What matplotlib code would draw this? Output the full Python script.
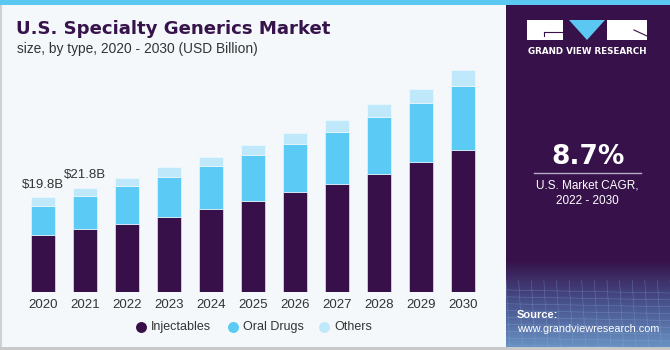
import matplotlib.pyplot as plt
import numpy as np
from matplotlib.patches import Rectangle
from matplotlib.colors import LinearSegmentedColormap

# data (USD billion)
years = ['2020', '2021', '2022', '2023', '2024', '2025', '2026', '2027', '2028', '2029', '2030']
injectables = [11.9, 13.2, 14.3, 15.7, 17.3, 18.9, 20.8, 22.6, 24.6, 27.1, 29.6]
oral_drugs = [6.1, 6.8, 7.8, 8.4, 9.0, 9.6, 10.1, 10.9, 12.0, 12.4, 13.5]
others = [1.8, 1.8, 1.6, 2.0, 1.9, 2.2, 2.2, 2.4, 2.7, 2.9, 3.2]
labels = {0: '$19.8B', 1: '$21.8B'}
series_names = ['Injectables', 'Oral Drugs', 'Others']

c_inj = '#37104a'
c_oral = '#5bcaf5'
c_oth = '#bfe9fa'
c_panel = '#37124a'

W, H = 670, 350
fig = plt.figure(figsize=(W / 100, H / 100), dpi=100)
fig.patch.set_facecolor('#f4f8fb')

# background decorations, drawn in pixel coords (origin top-left)
bg = fig.add_axes([0, 0, 1, 1])
bg.set_xlim(0, W)
bg.set_ylim(H, 0)
bg.axis('off')
bg.add_patch(Rectangle((0, 0), W, 5, color='#5bc8f2', lw=0))
bg.add_patch(Rectangle((0, 347), W, 3, color='#c9c9c9', lw=0))
bg.add_patch(Rectangle((0, 5), 1.5, 342, color='#d0d0d0', lw=0))
bg.add_patch(Rectangle((506, 5), W - 506, 342, color=c_panel, lw=0))

# gradient + mesh at the bottom of the panel
grad = np.linspace(0, 1, 100).reshape(-1, 1)
cm = LinearSegmentedColormap.from_list('g', [c_panel, '#4a5a95', '#6fa0d0'])
bg.imshow(grad, extent=(506, W, 347, 260), cmap=cm, aspect='auto', zorder=1, alpha=0.9)
for yy in np.linspace(290, 345, 9):
    bg.plot([506, W], [yy, yy + 3], color='#8fb4e0', lw=0.4, alpha=0.4, zorder=2)
for xx in np.linspace(506, W, 14):
    bg.plot([xx, xx + 4], [280, 347], color='#8fb4e0', lw=0.4, alpha=0.4, zorder=2)

# logo
bg.add_patch(Rectangle((527, 20), 36, 20, color='white', lw=0, zorder=3))
bg.add_patch(Rectangle((607, 20), 40, 20, color='white', lw=0, zorder=3))
bg.fill([569, 605, 587], [20, 20, 40], color='#5bc8f2', zorder=3, lw=0)
bg.plot([544, 563], [32, 32], color=c_panel, lw=0.8, zorder=4)
bg.plot([544, 544], [32, 36], color=c_panel, lw=0.8, zorder=4)
bg.plot([634, 647], [30, 36], color=c_panel, lw=0.8, zorder=4)
bg.text(587, 51, 'GRAND VIEW RESEARCH', color='white', fontsize=6.3, fontweight='bold',
        ha='center', va='center', family='DejaVu Sans', zorder=4)

# panel texts
bg.text(588, 157, '8.7%', color='white', fontsize=19, fontweight='bold', ha='center',
        va='center', family='DejaVu Sans', zorder=4)
bg.plot([534, 641], [173, 173], color='#b9a9c9', lw=1, zorder=4)
bg.text(587, 186, 'U.S. Market CAGR,', color='white', fontsize=8.5, ha='center',
        va='center', family='Liberation Sans', zorder=4)
bg.text(587, 201, '2022 - 2030', color='white', fontsize=8.5, ha='center',
        va='center', family='Liberation Sans', zorder=4)
bg.text(517, 315, 'Source:', color='white', fontsize=8, fontweight='bold', ha='left',
        va='center', family='Liberation Sans', zorder=4)
bg.text(517, 329, 'www.grandviewresearch.com', color='white', fontsize=7.8, ha='left',
        va='center', family='Liberation Sans', zorder=4)

# title
bg.text(16, 29, 'U.S. Specialty Generics Market', color='#37134b', fontsize=13.1,
        fontweight='bold', ha='left', va='center', family='DejaVu Sans', zorder=4)
bg.text(17, 49, 'size, by type, 2020 - 2030 (USD Billion)', color='#333333', fontsize=9.9,
        ha='left', va='center', family='Liberation Sans', zorder=4)

# legend, drawn by hand to match spacing
leg_x = [141, 233, 324]
for lx, c, name in zip(leg_x, (c_inj, c_oral, c_oth), series_names):
    bg.scatter([lx], [327], s=62, color=c, zorder=4, lw=0)
    bg.text(lx + 10, 327, name, fontsize=9, color='#333333', ha='left', va='center',
            family='Liberation Sans', zorder=4)

# main chart
x0, x1 = 22, 484
ybase, ytop = 292, 52.5
ax = fig.add_axes([x0 / W, (H - ybase) / H, (x1 - x0) / W, (ybase - ytop) / H])
ax.set_facecolor('none')
ax.set_xlim(-0.5, len(years) - 0.5)
ax.set_ylim(0, 50)

x = np.arange(len(years))
inj = np.array(injectables)
oral = np.array(oral_drugs)
oth = np.array(others)
bw = 0.57
ax.bar(x, inj, bw, color=c_inj, edgecolor='#e6e1ec', linewidth=0.5)
ax.bar(x, oral, bw, bottom=inj, color=c_oral, edgecolor='#e6f4fb', linewidth=0.5)
ax.bar(x, oth, bw, bottom=inj + oral, color=c_oth, edgecolor='#eef8fd', linewidth=0.5)

for i, t in labels.items():
    total = inj[i] + oral[i] + oth[i]
    ax.text(x[i], total + 2.6, t, ha='center', va='center', fontsize=9.5,
            color='#333333', family='Liberation Sans')

ax.set_xticks(x)
ax.set_xticklabels(years, fontsize=9.5, color='#333333', family='Liberation Sans')
ax.tick_params(axis='x', length=0, pad=5)
ax.set_yticks([])
for s in ax.spines.values():
    s.set_visible(False)

fig.savefig('out.png', dpi=100, facecolor=fig.get_facecolor())
